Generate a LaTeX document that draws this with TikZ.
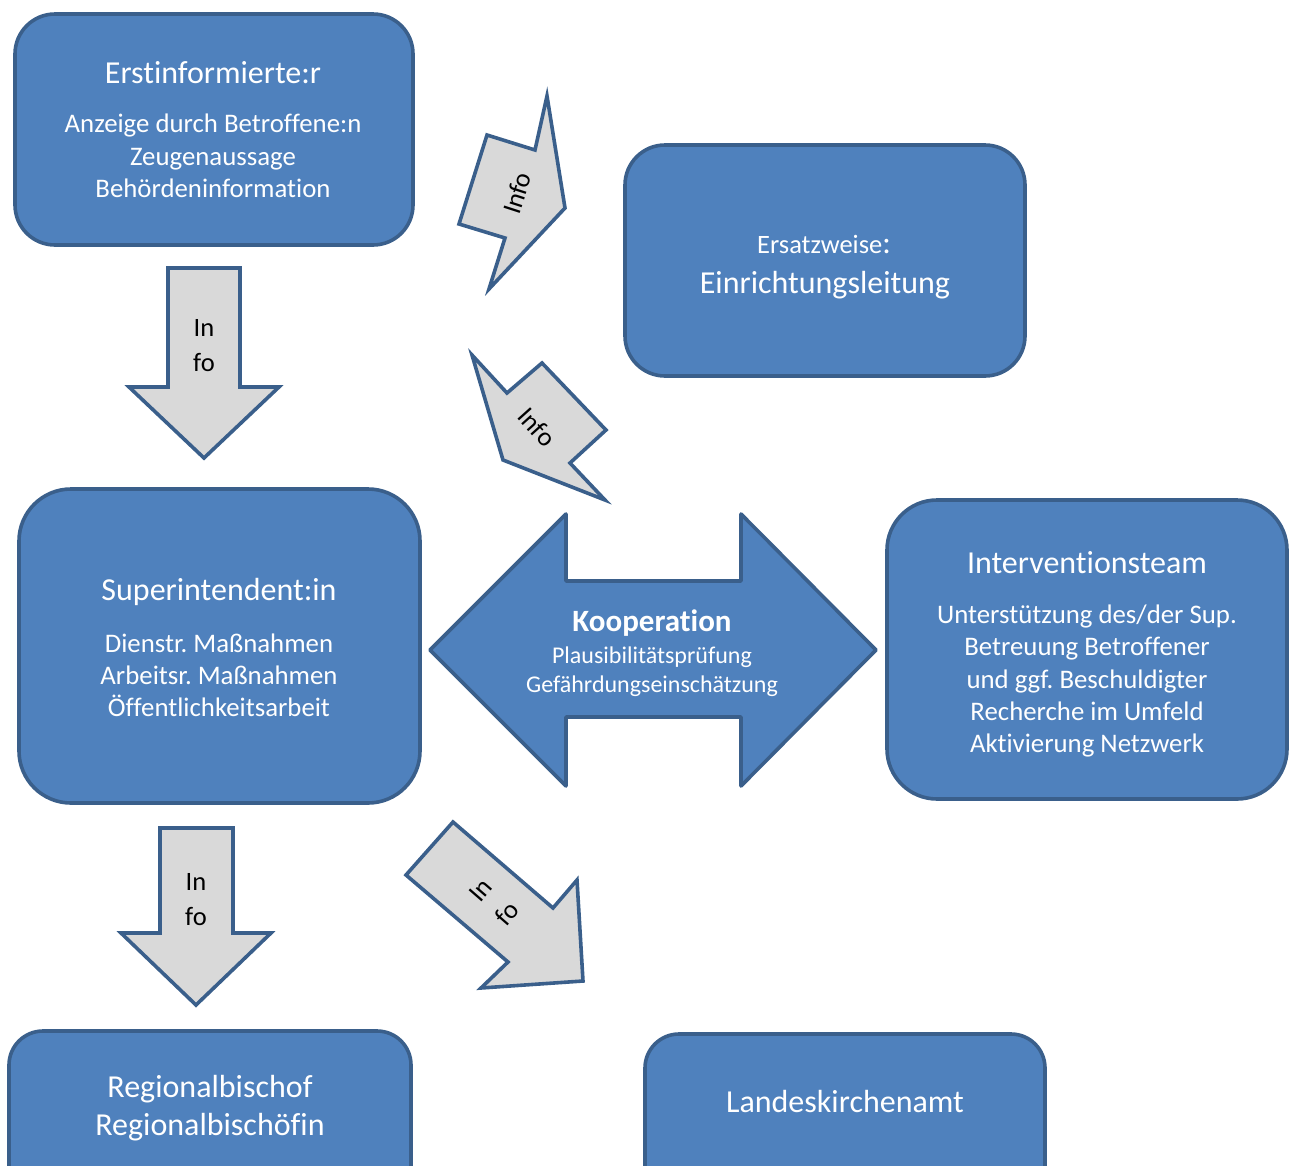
\documentclass[tikz,border=0pt]{standalone}
\usepackage{fontspec}
\setmainfont{Carlito}[Ligatures=NoCommon]
\definecolor{blu}{HTML}{4F81BD}
\definecolor{bdr}{HTML}{3A5F8B}
\definecolor{gry}{HTML}{D9D9D9}
\tikzset{
  box/.style={draw=bdr, fill=blu, line width=3.6pt, rectangle, inner sep=0pt},
  grarrow/.style={draw=bdr, fill=gry, line width=3.6pt, line join=miter},
  bluarrow/.style={draw=bdr, fill=blu, line width=3.6pt, line join=round},
  ttl/.style={text=white, font=\fontsize{32}{39}\selectfont, align=center, inner sep=0pt, anchor=base},
  bdy/.style={text=white, font=\fontsize{26.8}{32.5}\selectfont, align=center, inner sep=0pt, anchor=base},
  koop/.style={text=white, font=\fontsize{24}{29}\selectfont, align=center, inner sep=0pt, anchor=base},
  lbl/.style={text=black, font=\fontsize{26.5}{35}\selectfont, align=center, inner sep=0pt}
}
\frenchspacing
\begin{document}
\frenchspacing
\begin{tikzpicture}[x=1pt,y=-1pt]
\useasboundingbox (0,0) rectangle (1296,1165);
% boxes
\node[box, rounded corners=40pt, minimum width=398pt, minimum height=231pt] (b1) at (214,129.5) {};
\node[box, rounded corners=40pt, minimum width=400pt, minimum height=231pt] (b2) at (825,260.5) {};
\node[box, rounded corners=52pt, minimum width=401pt, minimum height=314pt] (b3) at (219.5,646) {};
\node[box, rounded corners=50pt, minimum width=400pt, minimum height=299pt] (b4) at (1087,649.5) {};
\node[box, rounded corners=34pt, minimum width=402pt, minimum height=200pt] (b5) at (210,1131) {};
\node[box, rounded corners=34pt, minimum width=400pt, minimum height=200pt] (b6) at (845,1134) {};
% box texts
\node[ttl] (t1) at (213,83) {Erstinformierte:r};
\node[bdy] (t1a) at (213,132) {Anzeige durch Betroffene:n};
\node[bdy] (t1b) at (213,165) {Zeugenaussage};
\node[bdy] (t1c) at (213,197) {Behördeninformation};
\node[text=white, font=\fontsize{26.5}{30}\selectfont, inner sep=0pt, anchor=base] (t2a) at (824,253) {Ersatzweise\fontsize{32}{39}\selectfont:};
\node[ttl] (t2) at (825,293) {Einrichtungsleitung};
\node[ttl] (t3) at (219,600) {Superintendent:in};
\node[bdy] (t3a) at (219,652) {Dienstr. Maßnahmen};
\node[bdy] (t3b) at (219,684) {Arbeitsr. Maßnahmen};
\node[bdy] (t3c) at (219,716) {Öffentlichkeitsarbeit};
\node[ttl] (t4) at (1087,573) {Interventionsteam};
\node[bdy] (t4a) at (1087,623) {Unterstützung des/der Sup.};
\node[bdy] (t4b) at (1087,655) {Betreuung Betroffener};
\node[bdy] (t4c) at (1087,688) {und ggf. Beschuldigter};
\node[bdy] (t4d) at (1087,720) {Recherche im Umfeld};
\node[bdy] (t4e) at (1087,752) {Aktivierung Netzwerk};
\node[ttl] (t5a) at (210,1097) {Regionalbischof};
\node[ttl] (t5b) at (210,1135) {Regionalbischöfin};
\node[ttl] (t6) at (845,1112) {Landeskirchenamt};
% cooperation double arrow
\draw[bluarrow] (430,650) -- (566,514) -- (566,581) -- (741,581) -- (741,514) -- (876,650)
  -- (741,786) -- (741,717) -- (566,717) -- (566,786) -- cycle;
\node[koop, font=\bfseries\fontsize{31}{34}\selectfont] (k0) at (652,631) {Kooperation};
\node[koop] (k1) at (652,663) {Plausibilitätsprüfung};
\node[koop] (k2) at (652,692) {Gefährdungseinschätzung};
% grey info arrows
\draw[grarrow] (168,268) -- (240,268) -- (240,387) -- (279,387) -- (204,458) -- (129,387) -- (168,387) -- cycle;
\node[lbl] (i1) at (204,346) {In\\fo};
\draw[grarrow] (160,828) -- (233,828) -- (233,933) -- (271,933) -- (196,1005) -- (121,933) -- (160,933) -- cycle;
\node[lbl] (i2) at (196,900) {In\\fo};
\draw[grarrow] (547,96) -- (565,208) -- (489,289) -- (505,238) -- (459,224) -- (487,135) -- (535,150) -- cycle;
\node[lbl, rotate=72] (i3) at (517,193) {Info};
\draw[grarrow] (472,355) -- (507,393) -- (542,363) -- (606,430) -- (570,463) -- (605,500) -- (503,460) -- cycle;
\node[lbl, rotate=-48] (i4) at (537,427) {Info};
\draw[grarrow] (453,822) -- (553,908) -- (577,880) -- (583,981) -- (481,988) -- (508,962) -- (406,875) -- cycle;
\node[lbl, rotate=49] (i5) at (494,902) {In\\fo};
\end{tikzpicture}
\end{document}
